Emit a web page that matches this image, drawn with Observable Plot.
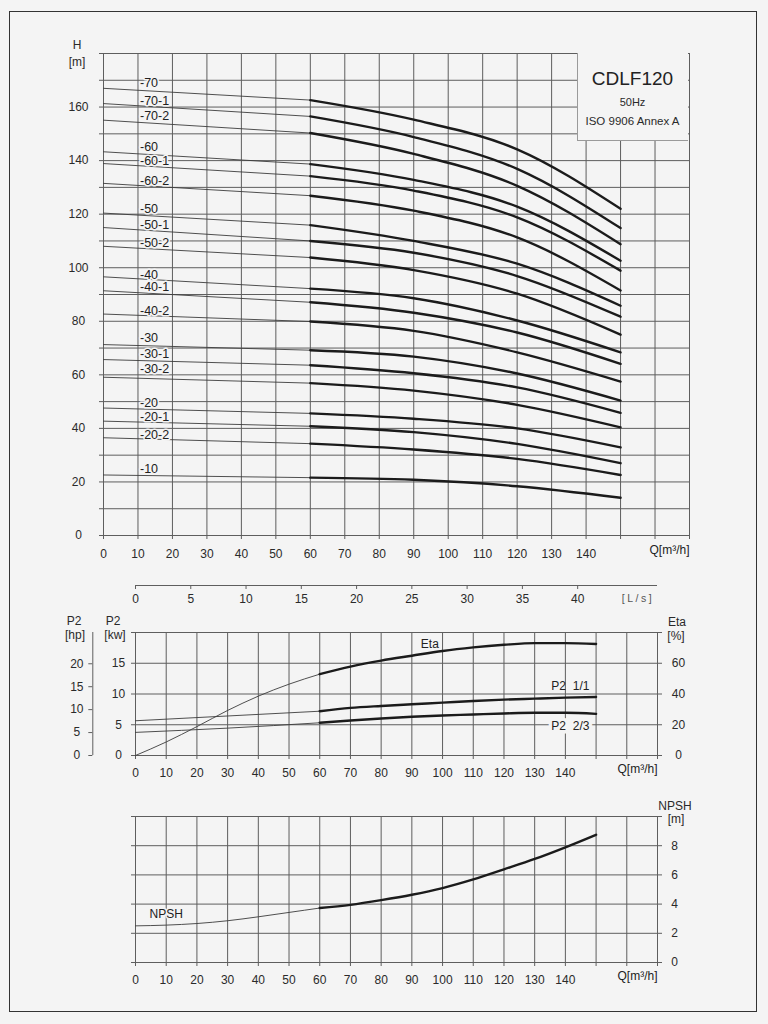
<!DOCTYPE html>
<html>
<head>
<meta charset="utf-8">
<script src="https://cdn.jsdelivr.net/npm/d3@7"></script>
<script src="https://cdn.jsdelivr.net/npm/@observablehq/plot@0.6"></script>
<style>
  html, body { margin: 0; padding: 0; background: #f4f4f4; }
  #page { position: relative; width: 768px; height: 1024px; overflow: hidden; background: #f4f4f4;
          font-family: Arial, "Liberation Sans", Helvetica, sans-serif; color: #2a2a2a; }
  .border { position: absolute; left: 9px; top: 11px; width: 748px; height: 1001px;
            border: 1.5px solid #333; box-sizing: border-box; }
  .plotwrap { position: absolute; left: 0; }
  .lbl { position: absolute; font-size: 12px; line-height: 1; white-space: nowrap;
         transform: translate(-50%, -50%); text-align: center; }
  .box { position: absolute; left: 577px; top: 53px; width: 111px; height: 88px;
         background: #f4f4f4; border-left: 1px solid #9a9a9a; border-bottom: 1px solid #9a9a9a;
         box-sizing: border-box; }
</style>
</head>
<body>
<div id="page">
  <div class="border"></div>
</div>
<script>
// ---------------- DATA ----------------
// Head curves (H [m]) read at these flows Q [m³/h]
const flowQ = [0, 60, 90, 120, 150];
const stageNames = ["-70","-70-1","-70-2","-60","-60-1","-60-2","-50","-50-1","-50-2",
                    "-40","-40-1","-40-2","-30","-30-1","-30-2","-20","-20-1","-20-2","-10"];
const stageHeads = [
  [167.0, 162.6, 155.3, 144.2, 122.0],
  [161.3, 156.5, 148.8, 136.9, 114.8],
  [155.1, 150.3, 142.5, 130.6, 108.8],
  [143.3, 138.7, 132.8, 122.8, 102.6],
  [138.9, 134.2, 128.8, 118.8,  98.9],
  [131.5, 126.9, 121.3, 111.3,  91.5],
  [120.4, 115.9, 110.0, 101.5,  85.8],
  [115.0, 110.0, 105.6,  96.9,  81.7],
  [108.0, 103.8,  99.1,  90.3,  75.0],
  [ 96.6,  92.2,  88.6,  80.3,  68.4],
  [ 91.4,  87.1,  83.2,  75.8,  64.1],
  [ 82.7,  79.9,  76.4,  68.4,  57.5],
  [ 71.3,  69.2,  66.8,  60.5,  50.4],
  [ 65.7,  63.6,  60.6,  55.3,  45.8],
  [ 59.1,  56.9,  54.1,  48.8,  40.4],
  [ 47.6,  45.6,  43.6,  40.0,  32.9],
  [ 42.7,  40.8,  38.6,  34.2,  27.0],
  [ 36.5,  34.3,  32.1,  28.6,  22.6],
  [ 22.6,  21.6,  20.8,  18.4,  14.1]
];
// where each stage label sits (H value of its text centre, at Q = labelQ)
const labelQ = 10;
const labelH = [168.8, 162.3, 156.7, 144.9, 139.9, 132.5, 122.1, 116.0, 109.4,
                97.4, 92.9, 84.0, 73.6, 67.8, 62.2, 49.4, 44.4, 37.6, 25.0];
const thickFrom = 60;       // recommended range (bold) starts at Q = 60

// Efficiency [%]
const etaQ   = [0, 10, 20, 30, 40, 50, 60, 70, 80, 90, 100, 110, 120, 130, 140, 150];
const etaPct = [0, 8.8, 18.8, 29.3, 38.6, 46.4, 52.9, 57.8, 61.7, 64.9, 68.0, 70.3, 72.0, 73.1, 73.1, 72.5];
// Power P2 [kW], full impeller (1/1) and reduced (2/3)
const p2FullQ  = [0, 60, 70, 80, 90, 100, 110, 120, 130, 140, 150];
const p2FullKw = [5.65, 7.2, 7.74, 8.06, 8.33, 8.6, 8.87, 9.09, 9.25, 9.41, 9.52];
const p2PartQ  = [0, 30, 60, 70, 80, 90, 100, 110, 120, 130, 140, 150];
const p2PartKw = [3.76, 4.45, 5.32, 5.7, 6.02, 6.29, 6.5, 6.67, 6.83, 6.94, 6.94, 6.77];
// NPSH [m]
const npshQ = [0, 10, 20, 30, 40, 50, 60, 70, 80, 90, 100, 110, 120, 130, 140, 150];
const npshM = [2.51, 2.56, 2.67, 2.86, 3.13, 3.43, 3.73, 3.95, 4.27, 4.64, 5.1, 5.69, 6.38, 7.09, 7.89, 8.75];

// Tick values
const qTicks   = d3.range(0, 171, 10);
const hTicks   = d3.range(0, 181, 10);
const kwTicks  = [0, 5, 10, 15, 20];
const hpTicks  = [0, 5, 10, 15, 20];
const npTicks  = [0, 2, 4, 6, 8, 10];
const lsTicks  = d3.range(0, 41, 5);
const kwPerHp  = 0.7457;
const m3hPerLs = 3.6;

// ---------------- STYLE ----------------
const W = 768;
const BG = "#f4f4f4";
const gridC = "#5e5e5e";
const inkThick = "#1b1b1b";
const inkThin = "#3c3c3c";
const font = "Arial, 'Liberation Sans', Helvetica, sans-serif";
const baseStyle = { background: "none", fontSize: "12px", fontFamily: font, color: "#2a2a2a", overflow: "visible" };
const qFmt = d => (d <= 140 ? d : "");

const page = document.getElementById("page");
function place(svg, top) {
  const w = document.createElement("div");
  w.className = "plotwrap";
  w.style.top = top + "px";
  w.appendChild(svg);
  page.appendChild(w);
}
function label(text, x, y, extra) {
  const d = document.createElement("div");
  d.className = "lbl";
  d.textContent = text;
  d.style.left = x + "px";
  d.style.top = y + "px";
  if (extra) Object.assign(d.style, extra);
  page.appendChild(d);
  return d;
}
function pts(qs, vs, part, f = v => v) {
  return qs.map((q, i) => ({ q, v: f(vs[i]) }))
           .filter(d => part === "thick" ? d.q >= thickFrom : d.q <= thickFrom);
}

// ---------------- CHART 1: H-Q ----------------
const thin1 = [], thick1 = [];
stageNames.forEach((s, i) => {
  flowQ.forEach((q, j) => {
    const r = { stage: s, q, h: stageHeads[i][j] };
    if (q <= thickFrom) thin1.push(r);
    if (q >= thickFrom) thick1.push(r);
  });
});
const labels1 = stageNames.map((s, i) => ({ stage: s, q: labelQ, h: labelH[i] }));

const chart1 = Plot.plot({
  width: W, height: 575,
  marginLeft: 103, marginRight: 79, marginTop: 53, marginBottom: 40,
  style: baseStyle,
  x: { domain: [0, 170], label: null },
  y: { domain: [0, 180], label: null },
  marks: [
    Plot.gridX(qTicks, { stroke: gridC, strokeOpacity: 1, strokeWidth: 1 }),
    Plot.gridY(hTicks, { stroke: gridC, strokeOpacity: 1, strokeWidth: 1 }),
    Plot.frame({ stroke: gridC, strokeWidth: 1 }),
    Plot.axisX({ ticks: qTicks, tickFormat: qFmt, tickSize: 4, tickPadding: 9.5, stroke: gridC, label: null }),
    Plot.axisY({ ticks: hTicks, tickFormat: d => (d % 20 === 0 && d <= 160 ? d : ""), tickSize: 4,
                 tickPadding: 21, textAnchor: "middle", stroke: gridC, label: null }),
    Plot.line(thin1, { x: "q", y: "h", z: "stage", stroke: inkThin, strokeWidth: 0.9 }),
    Plot.line(thick1, { x: "q", y: "h", z: "stage", stroke: inkThick, strokeWidth: 2.4, curve: "monotone-x" }),
    Plot.text(labels1, { x: "q", y: "h", text: "stage", textAnchor: "start", dx: 2,
                         fill: "#222", stroke: BG, strokeWidth: 3, fontSize: 12.5 }),
    Plot.text(["Q[m³/h]"], { text: d => d, frameAnchor: "bottom-right", textAnchor: "end", dy: 18, fill: "#222" })
  ]
});
place(chart1, 0);

label("H", 77, 45);
label("[m]", 77, 61.5);

const box = document.createElement("div");
box.className = "box";
page.appendChild(box);
label("CDLF120", 632.5, 77.5, { fontSize: "19px", color: "#222" });
label("50Hz", 632.5, 101.5, { fontSize: "11px" });
label("ISO 9906 Annex A", 632.5, 121.5, { fontSize: "11.5px" });

// ---------------- L/s AXIS ----------------
const lsAxis = Plot.plot({
  width: W, height: 30,
  marginLeft: 135, marginRight: 111, marginTop: 8, marginBottom: 22,
  style: baseStyle,
  x: { domain: [0, 170 / m3hPerLs], label: null },
  y: { domain: [0, 1], axis: null },
  marks: [
    Plot.ruleY([0], { stroke: gridC, strokeWidth: 1 }),
    Plot.axisX({ ticks: lsTicks, tickSize: 4, tickPadding: 4.5, stroke: gridC, label: null })
  ]
});
place(lsAxis, 577);
label("[L/s]", 638, 598, { fontSize: "10.5px", letterSpacing: "2.5px", color: "#555" });

// ---------------- CHART 2: P2 / Eta ----------------
const etaThin = pts(etaQ, etaPct, "thin", v => v / 4);
const etaThick = pts(etaQ, etaPct, "thick", v => v / 4);
const fullThin = pts(p2FullQ, p2FullKw, "thin");
const fullThick = pts(p2FullQ, p2FullKw, "thick");
const partThin = pts(p2PartQ, p2PartKw, "thin");
const partThick = pts(p2PartQ, p2PartKw, "thick");
const etaLabelPt = [etaThick.find(d => d.q === 90)];
const fullLabelPt = [fullThick.find(d => d.q === 140)];
const partLabelPt = [partThick.find(d => d.q === 140)];

const chart2 = Plot.plot({
  width: W, height: 190,
  marginLeft: 135, marginRight: 111, marginTop: 32, marginBottom: 35,
  style: baseStyle,
  x: { domain: [0, 170], label: null },
  y: { domain: [0, 20], label: null },
  marks: [
    Plot.gridX(qTicks, { stroke: gridC, strokeOpacity: 1, strokeWidth: 1 }),
    Plot.gridY(kwTicks, { stroke: gridC, strokeOpacity: 1, strokeWidth: 1 }),
    Plot.frame({ stroke: gridC, strokeWidth: 1 }),
    Plot.axisX({ ticks: qTicks, tickFormat: qFmt, tickSize: 4, tickPadding: 9.4, stroke: gridC, label: null }),
    Plot.axisY({ anchor: "left", ticks: kwTicks, tickFormat: d => (d < 20 ? d : ""), tickSize: 4,
                 tickPadding: 13, textAnchor: "middle", stroke: gridC, label: null }),
    Plot.axisY({ anchor: "right", ticks: kwTicks, tickFormat: d => (d < 20 ? d * 4 : ""), tickSize: 4,
                 tickPadding: 17, textAnchor: "middle", stroke: gridC, label: null }),
    Plot.axisY({ anchor: "left", ticks: hpTicks.map(h => h * kwPerHp), tickFormat: d => Math.round(d / kwPerHp),
                 tickSize: 4, tickPadding: 12, textAnchor: "middle", dx: -42.7, stroke: gridC, label: null }),
    Plot.ruleX([0], { y1: 0, y2: 20, dx: -42.7, stroke: gridC, strokeWidth: 1 }),
    Plot.line(etaThin, { x: "q", y: "v", stroke: inkThin, strokeWidth: 0.9, curve: "monotone-x" }),
    Plot.line(etaThick, { x: "q", y: "v", stroke: inkThick, strokeWidth: 2.4, curve: "monotone-x" }),
    Plot.line(fullThin, { x: "q", y: "v", stroke: inkThin, strokeWidth: 0.9 }),
    Plot.line(fullThick, { x: "q", y: "v", stroke: inkThick, strokeWidth: 2.4, curve: "monotone-x" }),
    Plot.line(partThin, { x: "q", y: "v", stroke: inkThin, strokeWidth: 0.9, curve: "monotone-x" }),
    Plot.line(partThick, { x: "q", y: "v", stroke: inkThick, strokeWidth: 2.4, curve: "monotone-x" }),
    Plot.text(etaLabelPt, { x: "q", y: "v", text: () => "Eta", dx: 18, dy: -12, fill: "#222" }),
    Plot.text(fullLabelPt, { x: "q", y: "v", text: () => "P2\u00a0\u00a01/1", dx: 5, dy: -11, fill: "#222" }),
    // background band behind the "P2 2/3" label (en dash is as wide as the two spaces)
    Plot.text(partLabelPt, { x: "q", y: "v", text: () => "P2\u20132/3", dx: 5, dy: 13, fill: BG,
                             stroke: BG, strokeWidth: 7 }),
    Plot.text(partLabelPt, { x: "q", y: "v", text: () => "P2\u00a0\u00a02/3", dx: 5, dy: 13, fill: "#222" }),
    Plot.text(["Q[m³/h]"], { text: d => d, frameAnchor: "bottom-right", textAnchor: "end", dy: 17.7, fill: "#222" })
  ]
});
place(chart2, 600);

label("P2", 74, 621);
label("[hp]", 75, 634.5);
label("P2", 113, 621);
label("[kw]", 115, 634.5);
label("Eta", 677, 622);
label("[%]", 676, 635.5);

// ---------------- CHART 3: NPSH ----------------
const npThin = pts(npshQ, npshM, "thin");
const npThick = pts(npshQ, npshM, "thick");
const npLabelPt = [npThin.find(d => d.q === 10)];

const chart3 = Plot.plot({
  width: W, height: 200,
  marginLeft: 135, marginRight: 111, marginTop: 16, marginBottom: 38,
  style: baseStyle,
  x: { domain: [0, 170], label: null },
  y: { domain: [0, 10], label: null },
  marks: [
    Plot.gridX(qTicks, { stroke: gridC, strokeOpacity: 1, strokeWidth: 1 }),
    Plot.gridY(npTicks, { stroke: gridC, strokeOpacity: 1, strokeWidth: 1 }),
    Plot.frame({ stroke: gridC, strokeWidth: 1 }),
    Plot.axisX({ ticks: qTicks, tickFormat: qFmt, tickSize: 4, tickPadding: 9.3, stroke: gridC, label: null }),
    Plot.axisY({ anchor: "left", ticks: npTicks, tickFormat: () => "", tickSize: 4, stroke: gridC, label: null }),
    Plot.axisY({ anchor: "right", ticks: npTicks, tickFormat: d => (d < 10 ? d : ""), tickSize: 4,
                 tickPadding: 13, textAnchor: "middle", stroke: gridC, label: null }),
    Plot.line(npThin, { x: "q", y: "v", stroke: inkThin, strokeWidth: 0.9, curve: "monotone-x" }),
    Plot.line(npThick, { x: "q", y: "v", stroke: inkThick, strokeWidth: 2.4, curve: "monotone-x" }),
    Plot.text(npLabelPt, { x: "q", y: "v", text: () => "NPSH", dy: -11, fill: "#222", stroke: BG, strokeWidth: 3 }),
    Plot.text(["Q[m³/h]"], { text: d => d, frameAnchor: "bottom-right", textAnchor: "end", dy: 17.6, fill: "#222" })
  ]
});
place(chart3, 800);

label("NPSH", 675, 805.5);
label("[m]", 676, 818.5);
</script>
</body>
</html>
